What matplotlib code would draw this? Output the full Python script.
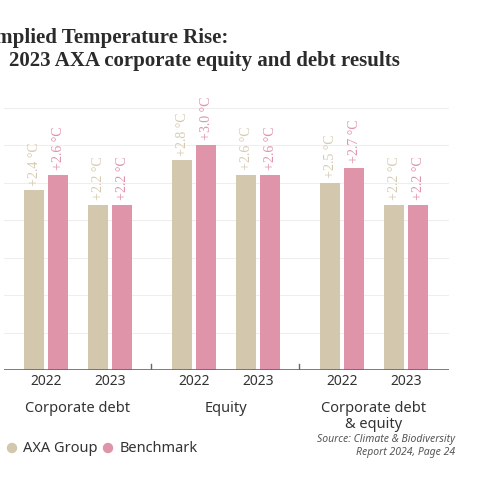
import matplotlib
matplotlib.use("Agg")
import matplotlib.pyplot as plt
from matplotlib.patches import Ellipse

groups = ["Corporate debt", "Equity", "Corporate debt\n& equity"]
years = ["2022", "2023"]
axa = [2.4, 2.2, 2.8, 2.6, 2.5, 2.2]
bench = [2.6, 2.2, 3.0, 2.6, 2.7, 2.2]
c_axa = "#D3C7AD"
c_bench = "#E094AA"

fig = plt.figure(figsize=(4.8, 4.8), dpi=100)
ax = fig.add_axes([4/480, 110/480, 445/480, 270/480])
ax.set_xlim(4, 449)
ax.set_ylim(0, 3.6)

centers = []
for g in range(3):
    for j in range(2):
        centers.append(46 + g*148 + j*64)
w = 20
for i, c in enumerate(centers):
    ax.bar(c - 12, axa[i], width=w, color=c_axa, zorder=2)
    ax.bar(c + 12, bench[i], width=w, color=c_bench, zorder=2)
    ax.text(c - 12, axa[i] + 0.06, f"+{axa[i]:.1f} °C", rotation=90, ha="center", va="bottom",
            color="#D6CBB2", fontsize=10, family="Liberation Serif")
    ax.text(c + 12, bench[i] + 0.06, f"+{bench[i]:.1f} °C", rotation=90, ha="center", va="bottom",
            color=c_bench, fontsize=10, family="Liberation Serif")
    ax.text(c, -0.05, years[i % 2], ha="center", va="top", fontsize=10, family="Noto Sans", color="#333333")

for y in [0.5, 1, 1.5, 2, 2.5, 3, 3.5]:
    ax.axhline(y, color="#EEEEEE", lw=0.8, zorder=0)
ax.axhline(0, color="#666666", lw=1.2, zorder=3)
for x in [151, 299]:
    ax.plot([x, x], [0, 0.08], color="#666666", lw=1)
for g in range(3):
    ax.text(78 + g*148, -0.42, groups[g], ha="center", va="top", fontsize=10.5, fontweight="bold",
            family="Noto Sans", color="#333333", linespacing=1.0)
for s in ax.spines.values():
    s.set_visible(False)
ax.set_xticks([]); ax.set_yticks([])

fig.text(228/480, 1 - 38/480, "Implied Temperature Rise:", ha="right", va="center", fontsize=15,
         fontweight="bold", family="Liberation Serif", color="#2B2B2B")
fig.text(400/480, 1 - 61/480, "2023 AXA corporate equity and debt results", ha="right", va="center", fontsize=15,
         fontweight="bold", family="Liberation Serif", color="#2B2B2B")

for xc, col in [(12, c_axa), (108, c_bench)]:
    fig.patches.append(Ellipse((xc/480, 1 - 448/480), 9/480, 9/480, color=col,
                               transform=fig.transFigure, figure=fig))
fig.text(23/480, 1 - 448/480, "AXA Group", va="center", fontsize=10.5, family="Noto Sans", color="#333333")
fig.text(120/480, 1 - 448/480, "Benchmark", va="center", fontsize=10.5, family="Noto Sans", color="#333333")
fig.text(455/480, 1 - 446/480, "Source: Climate & Biodiversity\nReport 2024, Page 24", ha="right", va="center",
         fontsize=7.5, style="italic", family="Noto Sans", color="#555555", linespacing=1.3)

fig.savefig("out.png", dpi=100, facecolor="white")
